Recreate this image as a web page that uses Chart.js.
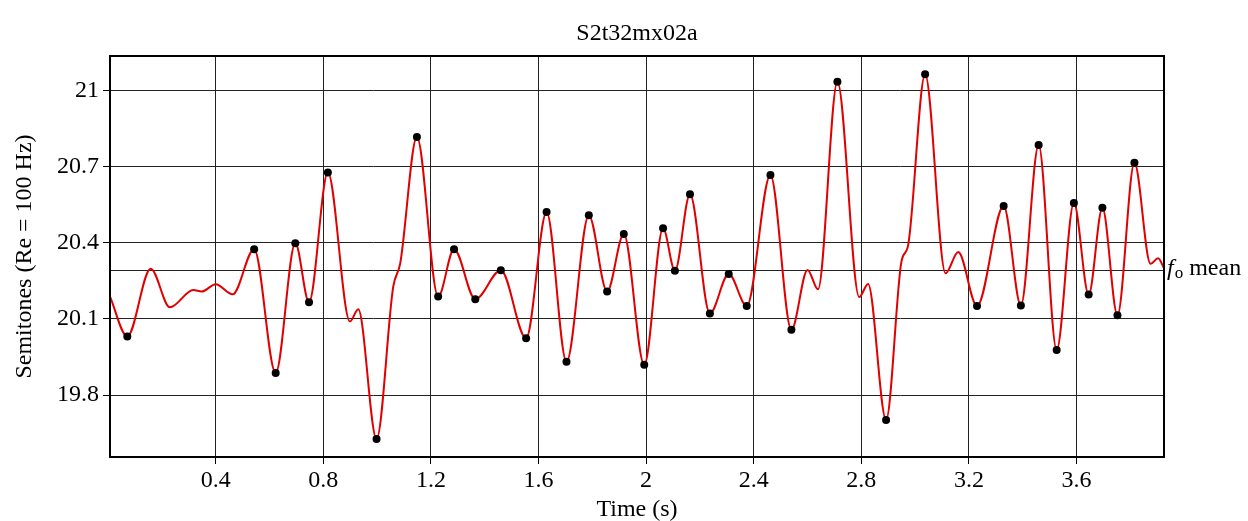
<!DOCTYPE html>
<html>
<head>
<meta charset="utf-8">
<title>S2t32mx02a</title>
<script src="https://cdn.jsdelivr.net/npm/chart.js@4/dist/chart.umd.min.js"></script>
<style>
    html, body { margin: 0; padding: 0; background: #fff; }
    #f0Chart { display: block; }
</style>
</head>
<body>
<canvas id="f0Chart" width="1248" height="521"></canvas>
<script>
// f0 contour (semitones re 100 Hz) - knots
const curveTimes = [0.0072, 0.0715, 0.1585, 0.230, 0.317, 0.348, 0.400, 0.463, 0.543, 0.623,
    0.696, 0.747, 0.817, 0.899, 0.930, 0.998, 1.060, 1.086, 1.148, 1.227,
    1.286, 1.365, 1.460, 1.554, 1.630, 1.704, 1.787, 1.855, 1.917, 1.993,
    2.063, 2.107, 2.163, 2.237, 2.307, 2.374, 2.462, 2.540, 2.600, 2.639,
    2.711, 2.792, 2.825, 2.892, 2.949, 2.974, 3.037, 3.113, 3.160, 3.230,
    3.329, 3.393, 3.459, 3.526, 3.590, 3.645, 3.696, 3.752, 3.815, 3.875,
    3.903, 3.925];
const curveValues = [20.188, 20.031, 20.298, 20.146, 20.214, 20.208, 20.237, 20.197, 20.375, 19.887,
    20.398, 20.166, 20.677, 20.090, 20.138, 19.627, 20.227, 20.319, 20.817, 20.188,
    20.375, 20.178, 20.292, 20.024, 20.521, 19.931, 20.509, 20.208, 20.435, 19.919,
    20.457, 20.290, 20.591, 20.121, 20.277, 20.151, 20.667, 20.057, 20.293, 20.217,
    21.035, 20.186, 20.238, 19.702, 20.326, 20.391, 21.064, 20.280, 20.364, 20.151,
    20.545, 20.153, 20.785, 19.978, 20.557, 20.196, 20.538, 20.115, 20.715, 20.317,
    20.339, 20.300];

// marked turning points (black dots)
const dotTimes = [0.0715, 0.543, 0.623, 0.696, 0.747, 0.817, 0.998, 1.148, 1.227, 1.286,
    1.365, 1.460, 1.554, 1.630, 1.704, 1.787, 1.855, 1.917, 1.993, 2.063,
    2.107, 2.163, 2.237, 2.307, 2.374, 2.462, 2.540, 2.711, 2.892, 3.037,
    3.230, 3.329, 3.393, 3.459, 3.526, 3.590, 3.645, 3.696, 3.752, 3.815];
const dotValues = [20.031, 20.375, 19.887, 20.398, 20.166, 20.677, 19.627, 20.817, 20.188, 20.375,
    20.178, 20.292, 20.024, 20.521, 19.931, 20.509, 20.208, 20.435, 19.919, 20.457,
    20.290, 20.591, 20.121, 20.277, 20.151, 20.667, 20.057, 21.035, 19.702, 21.064,
    20.151, 20.545, 20.153, 20.785, 19.978, 20.557, 20.196, 20.538, 20.115, 20.715];

const xTicks = [0.4, 0.8, 1.2, 1.6, 2, 2.4, 2.8, 3.2, 3.6];
const yTicks = [19.8, 20.1, 20.4, 20.7, 21];
const fMean = 20.292;
const chartTitle = 'S2t32mx02a';

const serif = '"Liberation Serif", "Times New Roman", serif';

// frame, mean line, title and the "fo mean" label
const decorations = {
    id: 'decorations',
    beforeDatasetsDraw(chart) {
        const { ctx, chartArea, scales } = chart;
        const y = Math.round(scales.y.getPixelForValue(fMean)) + 0.5;
        ctx.save();
        ctx.strokeStyle = '#222';
        ctx.lineWidth = 1;
        ctx.beginPath();
        ctx.moveTo(chartArea.left, y);
        ctx.lineTo(chartArea.right, y);
        ctx.stroke();
        ctx.restore();
    },
    afterDraw(chart) {
        const { ctx, chartArea, scales } = chart;
        ctx.save();
        ctx.strokeStyle = '#000';
        ctx.lineWidth = 2;
        ctx.strokeRect(chartArea.left, chartArea.top, chartArea.right - chartArea.left, chartArea.bottom - chartArea.top);

        ctx.fillStyle = '#000';
        ctx.textBaseline = 'alphabetic';
        ctx.textAlign = 'center';
        ctx.font = '24px ' + serif;
        ctx.fillText(chartTitle, (chartArea.left + chartArea.right) / 2, 40);

        // f (italic) + subscript o + " mean"
        const base = scales.y.getPixelForValue(fMean) + 5;
        let x = chartArea.right + 3;
        ctx.textAlign = 'left';
        ctx.font = 'italic 24px ' + serif;
        ctx.fillText('f', x, base);
        x += ctx.measureText('f').width + 1;
        ctx.font = '17px ' + serif;
        ctx.fillText('o', x, base + 3);
        x += ctx.measureText('o').width;
        ctx.font = '24px ' + serif;
        ctx.fillText(' mean', x, base);
        ctx.restore();
    }
};

document.addEventListener('DOMContentLoaded', () => {
    const curvePoints = curveTimes.map((t, i) => ({ x: t, y: curveValues[i] }));
    const dotPoints = dotTimes.map((t, i) => ({ x: t, y: dotValues[i] }));

    const tickFont = { family: serif, size: 24 };

    new Chart(document.getElementById('f0Chart'), {
        type: 'line',
        data: {
            datasets: [
                {
                    label: 'dots',
                    data: dotPoints,
                    showLine: false,
                    pointRadius: 4,
                    pointBackgroundColor: '#000',
                    pointBorderWidth: 0,
                    order: 0
                },
                {
                    label: 'f0',
                    data: curvePoints,
                    borderColor: '#e00000',
                    borderWidth: 2,
                    pointRadius: 0,
                    cubicInterpolationMode: 'monotone',
                    fill: false,
                    order: 1
                }
            ]
        },
        options: {
            responsive: false,
            animation: false,
            layout: { padding: { top: 56, right: 84, left: 0, bottom: 0 } },
            plugins: {
                legend: { display: false },
                tooltip: { enabled: false },
                title: { display: false }
            },
            scales: {
                x: {
                    type: 'linear',
                    min: 0.0072,
                    max: 3.925,
                    afterBuildTicks: axis => { axis.ticks = xTicks.map(v => ({ value: v })); },
                    afterFit: axis => { axis.height = 64; },
                    border: { display: false },
                    grid: { color: '#222', lineWidth: 1, tickLength: 7, tickColor: '#000' },
                    ticks: {
                        color: '#000', font: tickFont, padding: 2,
                        maxRotation: 0, autoSkip: false,
                        callback: v => String(v)
                    },
                    title: { display: true, text: 'Time (s)', color: '#000', font: tickFont, padding: { top: -3, bottom: -3 } }
                },
                y: {
                    min: 19.556,
                    max: 21.136,
                    afterBuildTicks: axis => { axis.ticks = yTicks.map(v => ({ value: v })); },
                    afterFit: axis => { axis.width = 110; },
                    border: { display: false },
                    grid: { color: '#222', lineWidth: 1, tickLength: 7, tickColor: '#000' },
                    ticks: {
                        color: '#000', font: tickFont, padding: 4,
                        callback: v => String(v)
                    },
                    title: { display: true, text: 'Semitones (Re = 100 Hz)', color: '#000', font: tickFont, padding: { top: 10, bottom: 0 } }
                }
            }
        },
        plugins: [decorations]
    });
});
</script>
</body>
</html>
